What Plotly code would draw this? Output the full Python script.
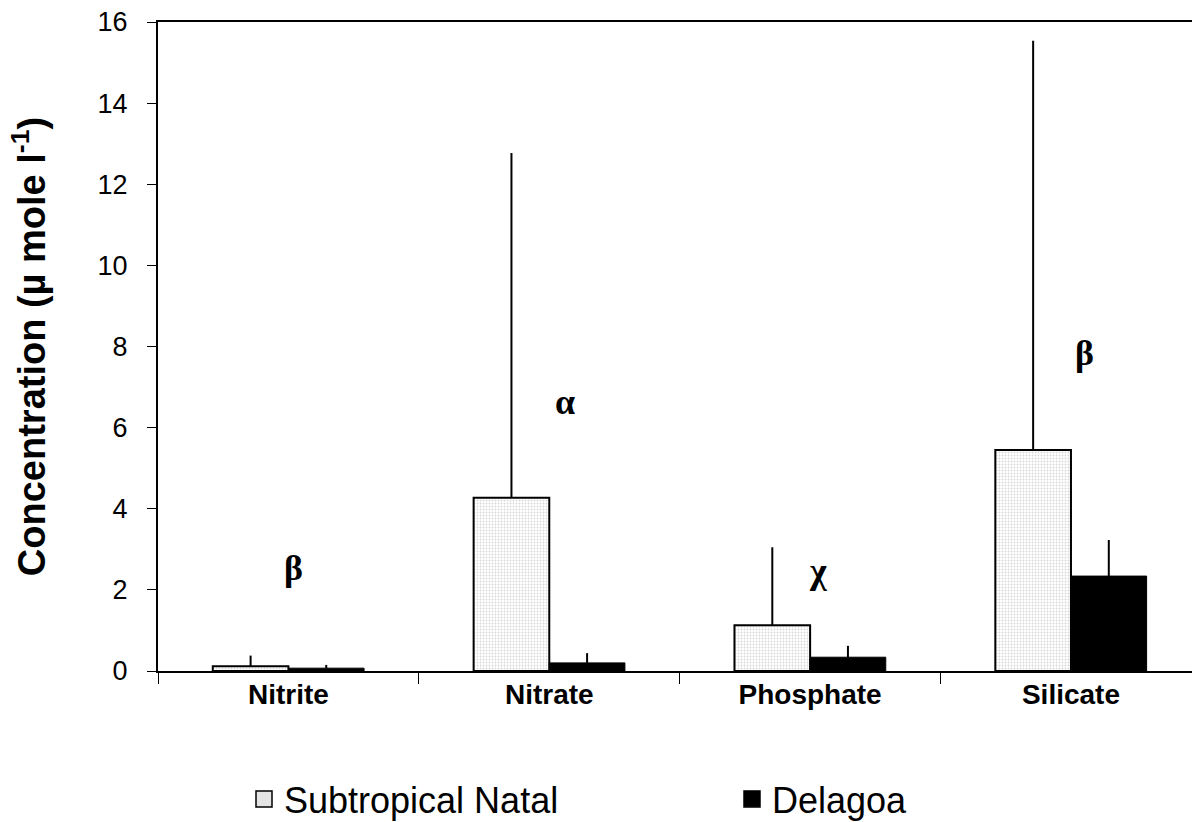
import plotly.graph_objects as go

# Nutrient concentrations by water mass (mean and upper standard deviation)
categories = ["Nitrite", "Nitrate", "Phosphate", "Silicate"]
natal_mean = [0.12, 4.27, 1.13, 5.45]
natal_sd = [0.26, 8.50, 1.92, 10.09]
delagoa_mean = [0.07, 0.20, 0.34, 2.34]
delagoa_sd = [0.08, 0.24, 0.28, 0.89]
letters = ["β", "α", "χ", "β"]
letter_y = [2.55, 6.62, 2.47, 7.83]
letter_dx = [0.02, 0.06, 0.03, 0.05]

y_ticks = [0, 2, 4, 6, 8, 10, 12, 14, 16]

fig = go.Figure()
fig.add_trace(go.Bar(
    name="Subtropical Natal",
    x=categories,
    y=natal_mean,
    showlegend=False,
    marker=dict(
        color="white",
        line=dict(color="black", width=2),
        pattern=dict(shape=".", size=3, solidity=0.3,
                     fgcolor="#b0b0b0", bgcolor="white"),
    ),
    error_y=dict(type="data", symmetric=False, array=natal_sd,
                 arrayminus=[0] * len(natal_sd), color="black",
                 thickness=2, width=0),
))
fig.add_trace(go.Bar(
    name="Delagoa",
    x=categories,
    y=delagoa_mean,
    showlegend=False,
    marker=dict(color="black", line=dict(color="black", width=1)),
    error_y=dict(type="data", symmetric=False, array=delagoa_sd,
                 arrayminus=[0] * len(delagoa_sd), color="black",
                 thickness=2, width=0),
))

# Legend keys (square swatches), one legend box per series
fig.add_trace(go.Scatter(
    name="Subtropical Natal", x=[None], y=[None], mode="markers",
    marker=dict(symbol="square", size=16, color="#e4e4e4",
                line=dict(color="black", width=1.5)),
    legend="legend",
))
fig.add_trace(go.Scatter(
    name="Delagoa", x=[None], y=[None], mode="markers",
    marker=dict(symbol="square", size=16, color="black",
                line=dict(color="black", width=1.5)),
    legend="legend2",
))

for i, (txt, yy) in enumerate(zip(letters, letter_y)):
    fig.add_annotation(
        x=i + letter_dx[i], y=yy, xref="x", yref="y", text=f"<b>{txt}</b>",
        showarrow=False,
        font=dict(family="Liberation Serif", size=36, color="black"),
    )

legend_common = dict(
    orientation="h", xanchor="left", yanchor="middle",
    xref="container", yref="container", y=(822 - 799) / 822,
    font=dict(family="Liberation Sans", size=36, color="black"),
    bgcolor="rgba(0,0,0,0)", borderwidth=0,
)

fig.update_layout(
    width=1192, height=822,
    margin=dict(l=158, r=0, t=22, b=151, autoexpand=False),
    paper_bgcolor="white", plot_bgcolor="white",
    barmode="group", bargap=0.42, bargroupgap=0,
    font=dict(family="Liberation Sans", color="black"),
    showlegend=True,
    legend=dict(x=244 / 1192, **legend_common),
    legend2=dict(x=732 / 1192, **legend_common),
    xaxis=dict(
        type="category", range=[-0.5, 3.464],
        tickson="boundaries", ticks="outside", ticklen=11,
        tickwidth=1, tickcolor="black",
        showline=True, linecolor="black", linewidth=2, mirror=True,
        showgrid=False, zeroline=False,
        tickfont=dict(family="Liberation Sans", size=28, color="black",
                      weight="bold"),
        ticklabelstandoff=-3,
    ),
    yaxis=dict(
        range=[0, 16], tickvals=y_ticks,
        ticks="outside", ticklen=9, tickwidth=1, tickcolor="black",
        showline=True, linecolor="black", linewidth=2, mirror=False,
        showgrid=False, zeroline=False,
        tickfont=dict(family="Liberation Sans", size=27, color="black"),
        ticklabelstandoff=14,
        title=dict(
            text="<b>Concentration (µ mole l<sup>-1</sup>)</b>",
            font=dict(family="Liberation Sans", size=38, color="black"),
            standoff=40,
        ),
    ),
)

fig.write_html("out.html")
